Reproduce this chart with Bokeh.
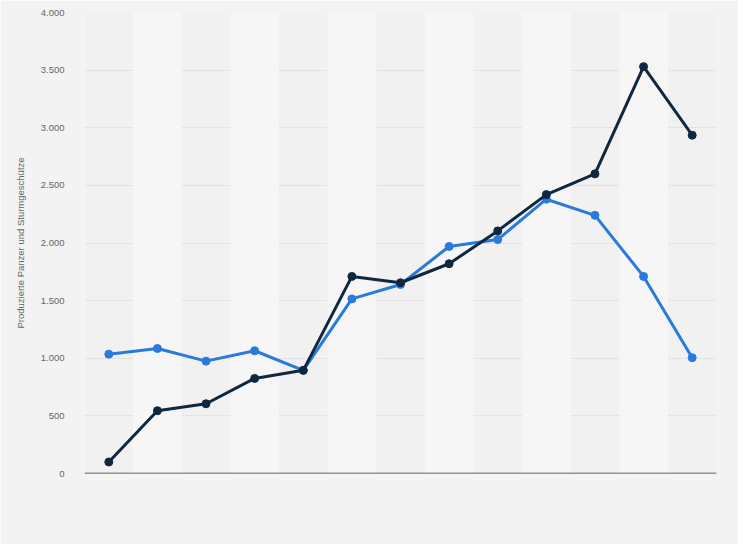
from bokeh.plotting import figure
from bokeh.models import FixedTicker, Range1d
from bokeh.embed import file_html
from bokeh.resources import INLINE

# data (13 periods, x labels not shown in reference)
periods = list(range(13))
series_dark = [100, 545, 605, 825, 895, 1710, 1655, 1820, 2105, 2420, 2600, 3530, 2935]
series_blue = [1035, 1085, 975, 1065, 895, 1515, 1640, 1970, 2030, 2380, 2240, 1710, 1005]
y_ticks = [0, 500, 1000, 1500, 2000, 2500, 3000, 3500, 4000]
y_tick_labels = ["0", "500", "1.000", "1.500", "2.000", "2.500", "3.000", "3.500", "4.000"]
y_title = "Produzierte Panzer und Sturmgeschütze"

BG = "#f3f3f3"
p = figure(width=738, height=544, output_backend="svg", toolbar_location=None,
           x_range=Range1d(-0.5, 12.5), y_range=Range1d(0, 4000),
           min_border_left=84, min_border_right=22, min_border_top=12, min_border_bottom=71)
p.background_fill_color = "#f1f1f1"
p.border_fill_color = BG
p.outline_line_color = None

# alternating bands
band_x = [i for i in periods if i % 2 == 1]
p.vbar(x=band_x, width=1, bottom=0, top=y_ticks[-1], fill_color="#f6f6f6", line_color=None)

# axes
p.xaxis.visible = False
p.xgrid.visible = False
p.yaxis.ticker = FixedTicker(ticks=y_ticks)
p.yaxis.major_label_overrides = dict(zip(y_ticks, y_tick_labels))
p.yaxis.axis_line_color = None
p.yaxis.major_tick_line_color = None
p.yaxis.minor_tick_line_color = None
p.yaxis.major_label_text_font = "Liberation Sans"
p.yaxis.major_label_text_font_size = "9.5px"
p.yaxis.major_label_text_color = "#666666"
p.yaxis.major_label_standoff = 14
p.yaxis.axis_label = y_title
p.yaxis.axis_label_text_font = "Liberation Sans"
p.yaxis.axis_label_text_font_size = "9.5px"
p.yaxis.axis_label_text_font_style = "normal"
p.yaxis.axis_label_text_color = "#666666"
p.yaxis.axis_label_standoff = 12
p.ygrid.grid_line_color = "#d4d4d4"
p.ygrid.grid_line_dash = "1 1"
p.ygrid.grid_line_width = 1

# baseline
p.line(x=[-0.5, 12.5], y=[0, 0], line_color="#333333", line_width=1.5)

# series
p.line(periods, series_blue, line_color="#2a7ade", line_width=3)
p.scatter(periods, series_blue, size=8, fill_color="#2a7ade", line_color="#2a7ade")
p.line(periods, series_dark, line_color="#0f2840", line_width=3)
p.scatter(periods, series_dark, size=8, fill_color="#0f2840", line_color="#0f2840")

html = file_html(p, INLINE)
html = html.replace("<body>", '<body style="background:%s">' % BG, 1)
open("out.html", "w").write(html)
